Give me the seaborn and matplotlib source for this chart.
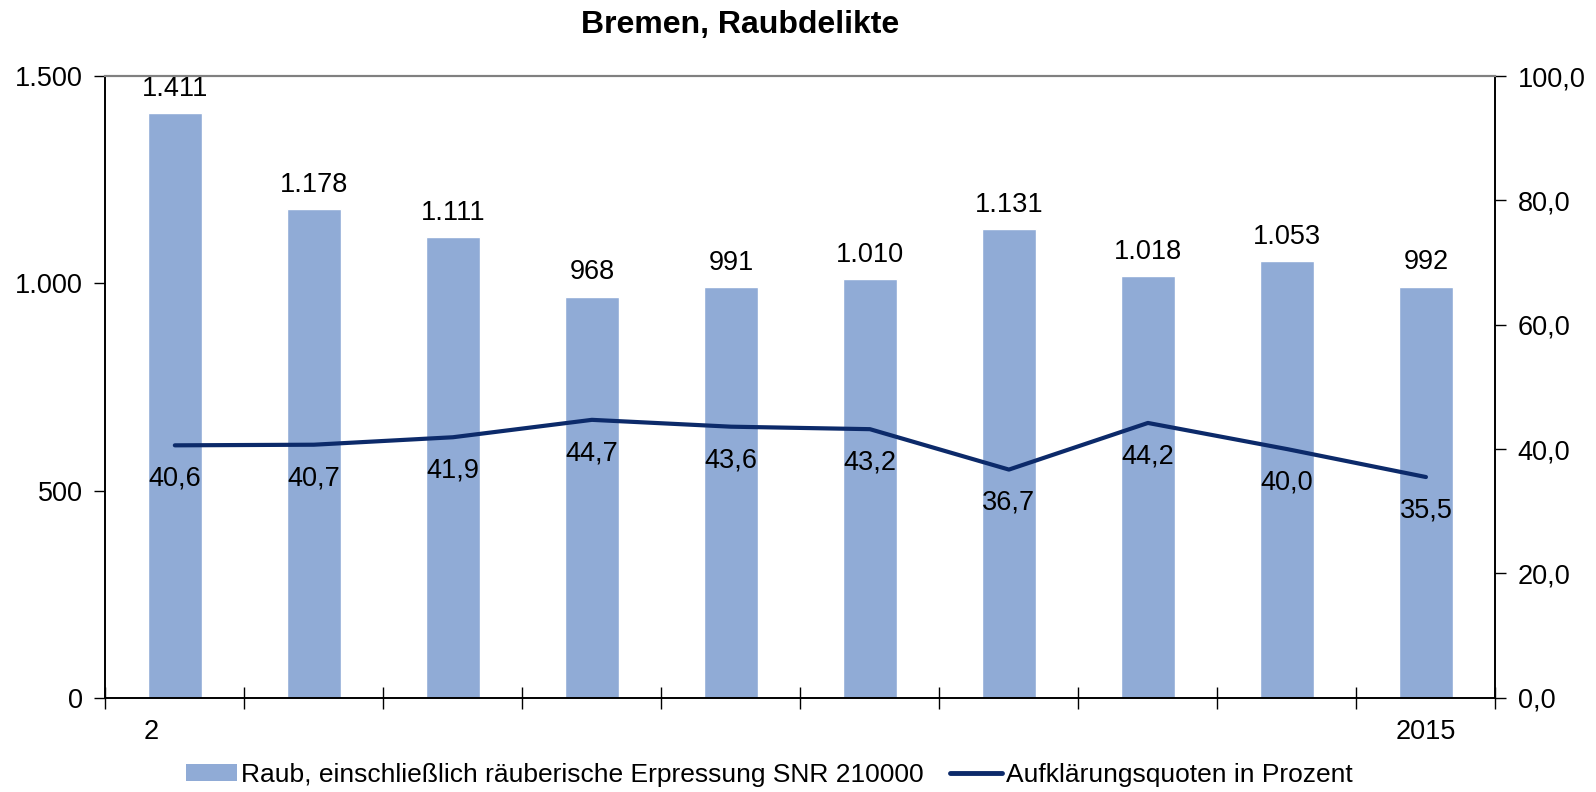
import matplotlib
matplotlib.use("Agg")
import matplotlib.pyplot as plt
import matplotlib.ticker as mticker
from matplotlib.transforms import ScaledTranslation
from matplotlib.lines import Line2D
from matplotlib.patches import Patch
import seaborn as sns
import pandas as pd

years = ["2006", "2007", "2008", "2009", "2010", "2011", "2012", "2013", "2014", "2015"]
raub = [1411, 1178, 1111, 968, 991, 1010, 1131, 1018, 1053, 992]
quote = [40.6, 40.7, 41.9, 44.7, 43.6, 43.2, 36.7, 44.2, 40.0, 35.5]
xlabels = ["2", "", "", "", "", "", "", "", "", "2015"]

bar_name = "Raub, einschließlich räuberische Erpressung SNR 210000"
line_name = "Aufklärungsquoten in Prozent"
bar_color = "#90abd6"
line_color = "#0c2a6a"

df = pd.DataFrame({"Jahr": years, "Raub": raub, "Quote": quote})

sns.set_style("white")
plt.rcParams["font.family"] = ["Liberation Sans", "DejaVu Sans"]
plt.rcParams["text.color"] = "black"
plt.rcParams["xtick.color"] = "black"
plt.rcParams["ytick.color"] = "black"
fs = 19.5

fig = plt.figure(figsize=(15.96, 7.92), dpi=100)
ax = fig.add_axes([0.066, 0.119, 0.871, 0.785])

sns.barplot(data=df, x="Jahr", y="Raub", color=bar_color, width=0.39,
            saturation=1, ax=ax)
ax.set_xlim(-0.5, 9.5)
ax.set_ylim(0, 1500)
ax.set_yticks([0, 500, 1000, 1500])
ax.yaxis.set_major_formatter(mticker.FuncFormatter(
    lambda v, p: f"{int(v):,}".replace(",", ".")))
ax.bar_label(ax.containers[0], labels=[f"{v:,}".replace(",", ".") for v in raub],
             padding=8, fontsize=fs, color="black")
ax.set_xlabel("")
ax.set_ylabel("")

ax2 = ax.twinx()
sns.lineplot(data=df, x="Jahr", y="Quote", color=line_color, linewidth=3,
             ax=ax2, legend=False)
ax2.set_ylim(0, 100)
ax2.set_yticks(range(0, 101, 20))
ax2.yaxis.set_major_formatter(mticker.FuncFormatter(
    lambda v, p: f"{v:.1f}".replace(".", ",")))
ax2.set_ylabel("")
for i, v in enumerate(quote):
    ax2.annotate(f"{v:.1f}".replace(".", ","), (i, v), xytext=(0, -24),
                 textcoords="offset points", ha="center", va="center",
                 fontsize=fs, color="black")
ax.set_xlim(-0.5, 9.5)

# x ticks: marks at category boundaries, labels at centers
ax.set_xticks(range(10))
ax.set_xticklabels(xlabels, fontsize=fs)
ax.set_xticks([i - 0.5 for i in range(11)], minor=True)
ax.tick_params(axis="x", which="major", length=0, pad=15, bottom=True,
               labelcolor="black")
ax.tick_params(axis="x", which="minor", direction="inout", length=16, width=1,
               color="black", bottom=True)
first = ax.get_xticklabels()[0]
first.set_ha("left")
first.set_transform(first.get_transform() + ScaledTranslation(-0.31, 0, fig.dpi_scale_trans))

ax.tick_params(axis="y", direction="out", length=8, width=1, color="black",
               labelsize=fs, pad=8, left=True, labelcolor="black")
ax2.tick_params(axis="y", direction="out", length=8, width=1, color="black",
                labelsize=fs, pad=8, right=True, labelcolor="black")

for a in (ax, ax2):
    for s in ("left", "right", "bottom"):
        a.spines[s].set_color("black")
        a.spines[s].set_linewidth(1.2)
    a.spines["top"].set_color("#808080")
    a.spines["top"].set_linewidth(1.5)
ax.grid(False)
ax2.grid(False)

fig.text(0.4637, 0.968, "Bremen, Raubdelikte", ha="center", va="center",
         fontsize=23, fontweight="bold", color="black")

handles = [Patch(facecolor=bar_color, edgecolor="none"),
           Line2D([0], [0], color=line_color, linewidth=3.5)]
fig.legend(handles, [bar_name, line_name], loc="center", bbox_to_anchor=(0.482, 0.022),
           ncol=2, frameon=False, fontsize=19, handlelength=1.95, handleheight=0.6,
           handletextpad=0.15, columnspacing=1.0, borderaxespad=0,
           labelcolor="black")

fig.savefig("out.png", dpi=100)
